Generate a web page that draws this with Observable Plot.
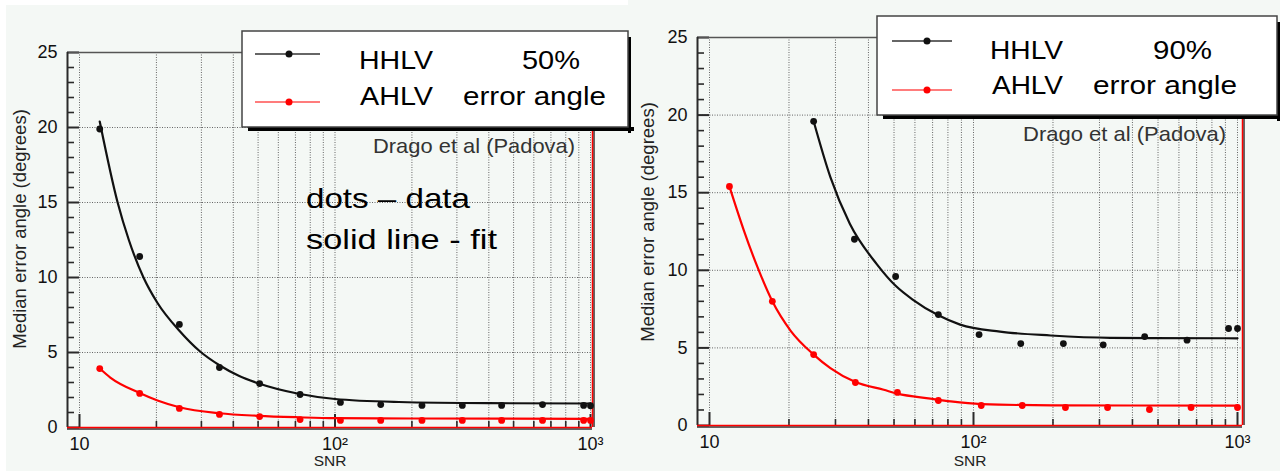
<!DOCTYPE html>
<html><head><meta charset="utf-8">
<script src="https://cdn.jsdelivr.net/npm/d3@7"></script>
<script src="https://cdn.jsdelivr.net/npm/@observablehq/plot@0.6"></script>
<style>
html,body{margin:0;padding:0;background:#f4f8f5;}
#wrap{position:relative;width:1280px;height:471px;overflow:hidden;font-family:"Liberation Sans",Arial,sans-serif;}
.panel{position:absolute;top:0;}
#overlay{position:absolute;left:0;top:0;pointer-events:none;}
</style></head><body><div id="wrap"></div>
<script>
// ---------- data: left panel (50% error angle) ----------
const snr50 = [12, 17.2, 24.6, 35.3, 50.7, 73, 105, 151, 219, 315, 449, 649, 940, 1000];
const hhlv50 = [19.9, 11.4, 6.87, 4.0, 2.93, 2.2, 1.67, 1.53, 1.47, 1.47, 1.47, 1.53, 1.47, 1.45];
const ahlv50 = [3.93, 2.27, 1.27, 0.87, 0.73, 0.53, 0.47, 0.47, 0.47, 0.47, 0.47, 0.47, 0.47, 0.47];
const fitHHLV50x = [12, 14.1, 15.6, 17.8, 20.2, 24.6, 29.5, 35.3, 42, 50, 72, 100, 178, 400, 1000];
const fitHHLV50y = [20.4, 15.0, 12.5, 10.0, 8.3, 6.45, 5.1, 4.15, 3.45, 2.95, 2.25, 1.9, 1.7, 1.62, 1.6];
const fitAHLV50x = [12, 13.2, 17.2, 20.2, 24.6, 35.3, 50, 72, 100, 200, 1000];
const fitAHLV50y = [3.93, 3.33, 2.3, 1.8, 1.35, 0.95, 0.78, 0.68, 0.62, 0.6, 0.58];

// ---------- data: right panel (90% error angle) ----------
const snr90h = [24.8, 35.4, 50.7, 73.6, 105, 151, 219, 310, 445, 644, 925, 1000];
const hhlv90 = [19.6, 12.0, 9.6, 7.15, 5.86, 5.28, 5.28, 5.2, 5.73, 5.5, 6.25, 6.25];
const snr90a = [11.9, 17.3, 24.8, 35.7, 51.5, 73.6, 107, 153, 223, 322, 464, 667, 1000];
const ahlv90 = [15.4, 8.0, 4.57, 2.77, 2.13, 1.61, 1.29, 1.29, 1.16, 1.16, 1.03, 1.16, 1.16];
const fitHHLV90x = [24.8, 28.7, 34, 43, 50.7, 59, 73.6, 89, 126, 196, 330, 1000];
const fitHHLV90y = [19.6, 16.0, 13.0, 10.4, 9.0, 8.1, 7.1, 6.5, 6.05, 5.8, 5.65, 5.62];
const fitAHLV90x = [11.9, 13.5, 15.2, 17.3, 20.3, 24.8, 28.7, 35.7, 45.7, 51.5, 68.7, 82, 107, 200, 1000];
const fitAHLV90y = [15.4, 12.56, 10.2, 8.0, 6.1, 4.57, 3.7, 2.8, 2.3, 2.05, 1.73, 1.55, 1.38, 1.3, 1.28];

// ---------- axis ticks / labels ----------
const xMajor = [10, 100, 1000];
const xMinor = [20, 30, 40, 50, 60, 70, 80, 90, 200, 300, 400, 500, 600, 700, 800, 900];
const xGrid = [10, ...xMinor.slice(0, 8), 100, ...xMinor.slice(8), 1000];
const xTickLabels = ["10", "10\u00B2", "10\u00B3"];
const yMajor = [0, 5, 10, 15, 20, 25];
const yMinor = d3.range(1, 25).filter(d => d % 5 !== 0);
const yGrid = [5, 10, 15, 20];
const xLabel = "SNR";
const yLabel = "Median error angle (degrees)";

const FONT = "Liberation Sans, Arial, sans-serif";

function zip(xs, ys) { return xs.map((x, i) => ({x, y: ys[i]})); }

function makePanel(o) {
  const ink = "#2a2a2a";
  const fw = o.width - o.ml - o.mr;       // frame width in px
  const fh = 471 - o.mt - o.mb;           // frame height in px
  return Plot.plot({
    width: o.width, height: 471,
    marginLeft: o.ml, marginRight: o.mr, marginTop: o.mt, marginBottom: o.mb,
    style: {background: "transparent", fontFamily: FONT, fontSize: "18px", color: "#111", overflow: "visible"},
    x: {type: "log", domain: o.xDomain},
    y: {domain: [0, 25]},
    marks: [
      Plot.gridX(xGrid, {stroke: "#666", strokeOpacity: 1, strokeWidth: 1, strokeDasharray: "1,1.5"}),
      Plot.gridY(yGrid, {stroke: "#666", strokeOpacity: 1, strokeWidth: 1, strokeDasharray: "1,1.5"}),
      // inward tick marks
      Plot.tickY(yMajor, {y: d => d, insetRight: fw - 12, stroke: ink, strokeWidth: 2}),
      Plot.tickY(yMinor, {y: d => d, insetRight: fw - 7, stroke: ink, strokeWidth: 1.6}),
      Plot.tickX(xMajor, {x: d => d, insetTop: fh - 13, stroke: ink, strokeWidth: 2}),
      Plot.tickX(xMinor, {x: d => d, insetTop: fh - 6, stroke: ink, strokeWidth: 1.6}),
      // tick labels
      Plot.axisY(yMajor, {tickSize: 0, tickPadding: 10, fill: "#111", fontSize: 18, label: null}),
      Plot.axisX(xMajor, {tickSize: 0, tickPadding: 10, fill: "#111", fontSize: 18,
        tickFormat: d => xTickLabels[xMajor.indexOf(d)], label: null}),
      // frame
      Plot.ruleY([25], {stroke: "#555", strokeWidth: 1.5}),
      Plot.ruleX([o.xDomain[0]], {stroke: ink, strokeWidth: 2}),
      Plot.ruleY([0], {stroke: "#333", strokeWidth: 1.5, dy: 1.5}),
      Plot.ruleX([o.xDomain[1]], {stroke: "#333", strokeWidth: 1.5, dx: 1.5}),
      Plot.ruleY([0], {stroke: "#ff0000", strokeWidth: 1.5}),
      Plot.ruleX([o.xDomain[1]], {stroke: "#ff0000", strokeWidth: 1.5}),
      // fits and data
      Plot.line(o.fitA, {x: "x", y: "y", stroke: "#ff0000", strokeWidth: 2.2, curve: "monotone-x"}),
      Plot.line(o.fitH, {x: "x", y: "y", stroke: "#111", strokeWidth: 2.2, curve: "monotone-x"}),
      Plot.dot(o.ptsA, {x: "x", y: "y", r: 3.4, fill: "#ff0000", stroke: null}),
      Plot.dot(o.ptsH, {x: "x", y: "y", r: 3.4, fill: "#111", stroke: null}),
      // axis titles
      Plot.text([xLabel], {frameAnchor: "bottom", dy: o.snrDy, textAnchor: "middle", lineAnchor: "middle", fontSize: 15.5, fill: "#222"}),
      Plot.text([yLabel], {frameAnchor: "left", rotate: -90, dx: o.ylDx, dy: o.ylDy, textAnchor: "middle", lineAnchor: "middle", fontSize: 18.5, fill: "#222"})
    ]
  });
}

const wrap = document.getElementById("wrap");

const left = makePanel({
  width: 630, ml: 67, mr: 38, mt: 52, mb: 44,
  xDomain: [Math.pow(10, 1 - 12 / 255.5), Math.pow(10, 1 - 12 / 255.5 + 525 / 255.5)],
  ptsH: zip(snr50, hhlv50), ptsA: zip(snr50, ahlv50),
  fitH: zip(fitHHLV50x, fitHHLV50y), fitA: zip(fitAHLV50x, fitAHLV50y),
  ylDx: -47, ylDy: -11, snrDy: 34
});
left.classList.add("panel"); left.style.left = "0px";
wrap.appendChild(left);

const right = makePanel({
  width: 650, ml: 67, mr: 38, mt: 37, mb: 46,
  xDomain: [Math.pow(10, 1 - 12 / 264), Math.pow(10, 1 - 12 / 264 + 545 / 264)],
  ptsH: zip(snr90h, hhlv90), ptsA: zip(snr90a, ahlv90),
  fitH: zip(fitHHLV90x, fitHHLV90y), fitA: zip(fitAHLV90x, fitAHLV90y),
  ylDx: -49, ylDy: -9.5, snrDy: 36
});
right.classList.add("panel"); right.style.left = "630px";
wrap.appendChild(right);

// ---------- overlay: legends and annotations ----------
const legendRows = ["HHLV", "AHLV"];
const legendColors = ["#111", "#ff0000"];
const svg = d3.select(wrap).append("svg").attr("id", "overlay").attr("width", 1280).attr("height", 471)
  .style("font-family", FONT);

// white strip at top-left edge of the left image
svg.append("rect").attr("x", 0).attr("y", 0).attr("width", 628).attr("height", 5).attr("fill", "#fff");
svg.append("rect").attr("x", 0).attr("y", 0).attr("width", 6).attr("height", 471).attr("fill", "#fff");

function stretchedText(g, s, x0, x1, cy, size, fill) {
  g.append("text").attr("x", x0).attr("y", cy).attr("dy", "0.36em").attr("font-size", size)
    .attr("fill", fill).attr("textLength", x1 - x0).attr("lengthAdjust", "spacingAndGlyphs").text(s);
}

function legend(L) {
  const g = svg.append("g");
  g.append("rect").attr("x", L.bx + 6).attr("y", L.by + L.bh).attr("width", L.bw).attr("height", 4).attr("fill", "#000");
  g.append("rect").attr("x", L.bx + L.bw).attr("y", L.by + 6).attr("width", 3).attr("height", L.bh).attr("fill", "#000");
  g.append("rect").attr("x", L.bx).attr("y", L.by).attr("width", L.bw).attr("height", L.bh)
    .attr("fill", "#fff").attr("stroke", "#444").attr("stroke-width", 1.5);
  L.rows.forEach((ry, i) => {
    g.append("line").attr("x1", L.lx0).attr("x2", L.lx1).attr("y1", ry).attr("y2", ry)
      .attr("stroke", i ? "#ff5050" : "#333").attr("stroke-width", 1.5);
    g.append("circle").attr("cx", L.dx).attr("cy", ry).attr("r", 3.5).attr("fill", legendColors[i]);
  });
  stretchedText(g, legendRows[0], L.t1[0], L.t1[1], L.ty[0], 25, "#000");
  stretchedText(g, L.pct, L.t2[0], L.t2[1], L.ty[0], 25, "#000");
  stretchedText(g, legendRows[1], L.t3[0], L.t3[1], L.ty[1], 25, "#000");
  stretchedText(g, "error angle", L.t4[0], L.t4[1], L.ty[1], 25, "#000");
  stretchedText(svg, "Drago et al (Padova)", L.dr[0], L.dr[1], L.dr[2], 21, "#333");
}

legend({bx: 242, by: 31, bw: 386, bh: 96, rows: [54, 102], lx0: 255, lx1: 320, dx: 289,
  t1: [359, 433], t2: [522, 580], t3: [360, 433], t4: [463, 606], ty: [60, 96], pct: "50%",
  dr: [373, 575, 145]});
legend({bx: 877, by: 16, bw: 400, bh: 99, rows: [41, 90], lx0: 892, lx1: 952, dx: 927,
  t1: [990, 1063], t2: [1153, 1212], t3: [992, 1063], t4: [1093, 1237], ty: [50, 85], pct: "90%",
  dr: [1023, 1226, 133]});

stretchedText(svg, "dots \u2013 data", 306, 470, 198, 28, "#000");
stretchedText(svg, "solid line - fit", 306, 497, 239, 28, "#000");
</script>
</body></html>
